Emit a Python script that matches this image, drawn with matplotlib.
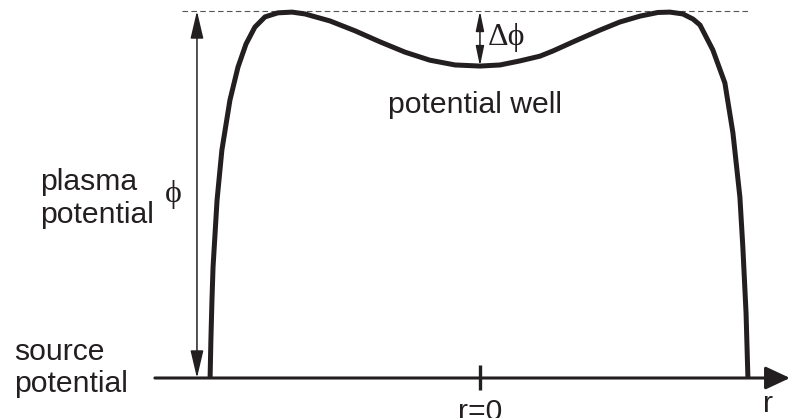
import matplotlib
matplotlib.use("Agg")
import matplotlib.pyplot as plt

# potential profile phi(r), normalised: plasma edge ~ r=+-1, peak phi = 1
r = [-1.007, -1.004, -1.000, -0.996, -0.981, -0.963, -0.933, -0.903, -0.873,
     -0.840, -0.802, -0.754, -0.701, -0.653, -0.560, -0.466, -0.373, -0.280,
     -0.187, -0.093, 0.000, 0.075, 0.149, 0.224, 0.272, 0.354, 0.448, 0.522,
     0.597, 0.664, 0.709, 0.757, 0.795, 0.821, 0.869, 0.914, 0.944, 0.970,
     0.981, 0.993, 1.000]
phi = [0.000, 0.104, 0.213, 0.302, 0.485, 0.621, 0.757, 0.847, 0.910,
       0.956, 0.984, 0.995, 0.997, 0.992, 0.973, 0.946, 0.916, 0.888,
       0.866, 0.853, 0.850, 0.853, 0.864, 0.877, 0.891, 0.918, 0.948, 0.970,
       0.986, 0.996, 0.997, 0.992, 0.978, 0.962, 0.894, 0.804, 0.668, 0.493,
       0.357, 0.177, 0.000]

phi_peak = 1.0
phi_well = 0.850
r_axis = [-1.213, 1.157]
r_dash = [-1.112, 1.000]
r_phi_arrow = -1.056

ink = "#231f20"
plt.rcParams["font.family"] = ["Liberation Sans", "DejaVu Sans"]

fig = plt.figure(figsize=(7.9, 4.18), dpi=100)
ax = fig.add_axes([0, 0, 1, 1])
ax.set_xlim(-1.791, 1.157)
ax.set_ylim(-0.109, 1.030)
ax.axis("off")

# dashed reference at the peak potential
ax.plot(r_dash, [phi_peak, phi_peak], color="#555555", lw=0.8,
        dashes=(5, 3))

# r axis with arrow
ax.annotate("", xy=(r_axis[1], 0), xytext=(r_axis[0], 0),
            arrowprops=dict(arrowstyle="-|>,head_length=1.5,head_width=0.7",
                            mutation_scale=10, lw=2.2, color=ink,
                            shrinkA=0, shrinkB=0))
# r=0 tick
ax.plot([0, 0], [-0.033, 0.035], color=ink, lw=2.4, solid_capstyle="butt")

# profile
ax.plot(r, phi, color=ink, lw=3.6, solid_joinstyle="round",
        solid_capstyle="butt")

# phi arrow
ax.annotate("", xy=(r_phi_arrow, phi_peak), xytext=(r_phi_arrow, 0),
            arrowprops=dict(arrowstyle="<|-|>,head_length=1.7,head_width=0.4",
                            mutation_scale=10, lw=1.1, color=ink,
                            shrinkA=0, shrinkB=0))
# delta phi arrow
ax.annotate("", xy=(0, phi_peak), xytext=(0, phi_well),
            arrowprops=dict(arrowstyle="<|-|>,head_length=1.2,head_width=0.25",
                            mutation_scale=10, lw=1.1, color=ink,
                            shrinkA=0, shrinkB=0))

fs = 21.7
ax.text(-1.642, 0.512, "plasma", fontsize=fs, color=ink, va="baseline")
ax.text(-1.642, 0.422, "potential", fontsize=fs, color=ink, va="baseline")
ax.text(-1.739, 0.049, "source", fontsize=fs, color=ink, va="baseline")
ax.text(-1.739, -0.038, "potential", fontsize=fs, color=ink, va="baseline")
ax.text(-0.343, 0.722, "potential well", fontsize=fs, color=ink,
        va="baseline")
ax.text(0.0, -0.114, "r=0", fontsize=fs, color=ink, ha="center",
        va="baseline")
ax.text(1.075, -0.093, "r", fontsize=fs, color=ink, ha="center",
        va="baseline")

sym_fs = 23
ax.text(-1.146, 0.499, "\u03d5", fontsize=sym_fs, color=ink, ha="center",
        va="center", family=["Liberation Serif", "DejaVu Serif"])
ax.text(0.030, 0.907, "\u0394\u03d5", fontsize=sym_fs, color=ink,
        va="baseline", family=["Liberation Serif", "DejaVu Serif"])

fig.savefig("out.png", dpi=100)
